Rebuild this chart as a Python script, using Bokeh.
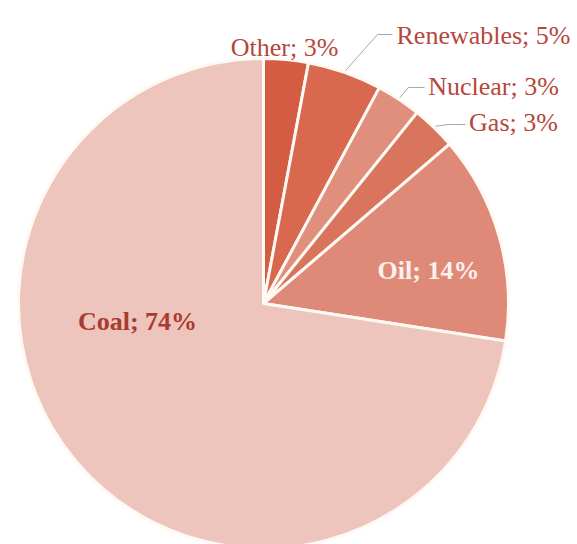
import math
from bokeh.plotting import figure
from bokeh.models import ColumnDataSource, Range1d
from bokeh.core.properties import value
from bokeh.embed import file_html
from bokeh.resources import INLINE

# ---- data (clockwise from 12 o'clock) ----
categories = ["Other", "Renewables", "Nuclear", "Gas", "Oil", "Coal"]
shares = [3, 5, 3, 3, 14, 74]
label_texts = [f"{c}; {v}%" for c, v in zip(categories, shares)]

# ---- styles / layout ----
colors = ["#D45C42", "#D8694F", "#E08F7C", "#D9745D", "#DF8A78", "#EDC5BC"]
W, H = 577, 544
CX, CY, R = 263, 241, 245

total = float(sum(shares))
starts, ends, mids = [], [], []
cum = 0.0
for v in shares:
    a0 = math.pi / 2 - 2 * math.pi * cum / total
    cum += v
    a1 = math.pi / 2 - 2 * math.pi * cum / total
    starts.append(a1)
    ends.append(a0)
    mids.append((a0 + a1) / 2)

p = figure(width=W, height=H, output_backend="svg", toolbar_location=None,
           x_range=Range1d(0, W), y_range=Range1d(0, H), min_border=0)
p.axis.visible = False
p.grid.visible = False
p.outline_line_color = None
p.background_fill_color = "white"
p.border_fill_color = "white"

src = ColumnDataSource(dict(start=starts, end=ends, color=colors))
p.wedge(x=CX, y=CY, radius=R, start_angle="start", end_angle="end",
        direction="anticlock", fill_color="color", line_color="#FFF9F3",
        line_width=3, source=src)

# label anchors (figure pixel coords), alignment, styles
label_pos = {
    "Other": (284, 497),
    "Renewables": (483, 509),
    "Nuclear": (493, 458),
    "Gas": (513, 422),
    "Oil": (428, 274),
    "Coal": (137, 223),
}
label_color = {"Oil": "#FBF1EC", "Coal": "#A93B30"}
label_bold = {"Oil", "Coal"}

for c, t in zip(categories, label_texts):
    x, y = label_pos[c]
    p.text(x=[x], y=[y], text=[t], text_align="center",
           text_baseline="alphabetic",
           text_font=value("Liberation Serif"), text_font_size="26px",
           text_font_style="bold" if c in label_bold else "normal",
           text_color=label_color.get(c, "#B5473C"))

# leader lines: start on the slice edge at mid-angle, elbow, then to label
leaders = {
    "Renewables": ((377, 510), (392, 510)),
    "Nuclear": ((408, 457), (424, 457)),
    "Gas": ((448, 420), (465, 420)),
}
for i, c in enumerate(categories):
    if c in leaders:
        sx = CX + (R + 2) * math.cos(mids[i])
        sy = CY + (R + 2) * math.sin(mids[i])
        (ex, ey), (fx, fy) = leaders[c]
        p.line(x=[sx, ex, fx], y=[sy, ey, fy], line_color="#A8A8A8", line_width=1)

open("out.html", "w").write(file_html(p, INLINE))
